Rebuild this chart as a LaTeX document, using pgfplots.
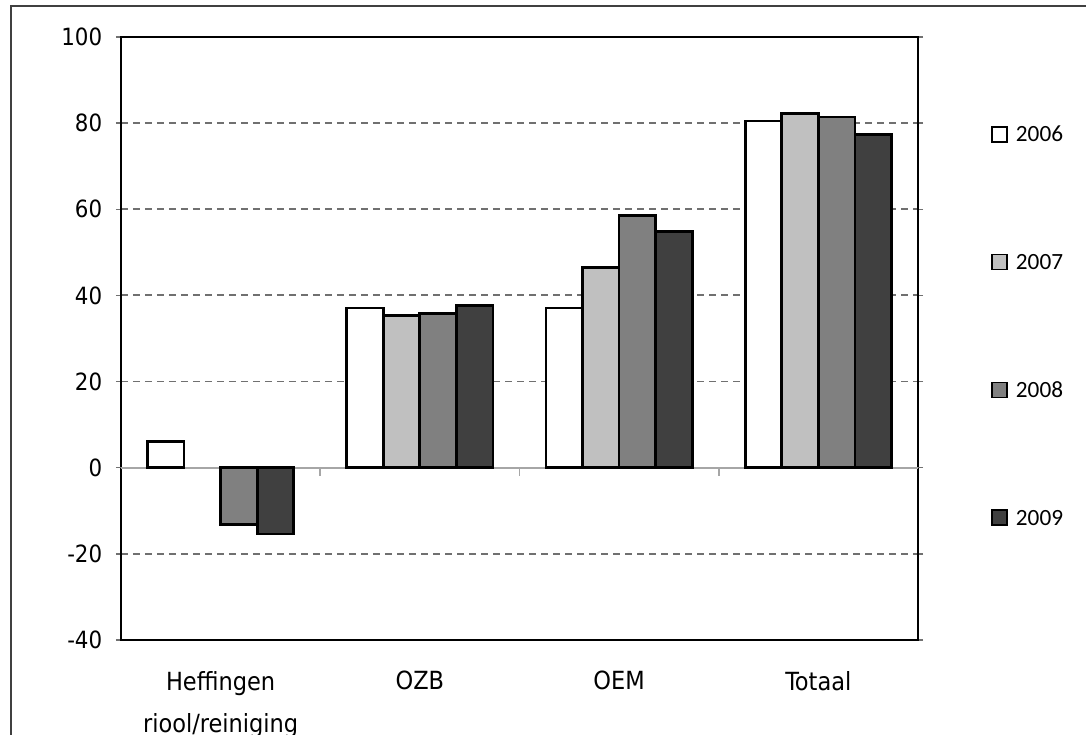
\documentclass[border=0pt]{standalone}
\usepackage{pgfplots}
\pgfplotsset{compat=1.18}
\usepackage{fontspec}
\setmainfont{DejaVu Sans Condensed}
\newfontfamily\legfont{Carlito}
\definecolor{c06}{HTML}{FFFFFF}
\definecolor{c07}{HTML}{C0C0C0}
\definecolor{c08}{HTML}{808080}
\definecolor{c09}{HTML}{404040}
\definecolor{framegray}{HTML}{404040}
\definecolor{gridgray}{HTML}{707070}
\begin{document}
\begin{tikzpicture}
\useasboundingbox (0pt,0pt) rectangle (434.4pt,294pt);
\clip (0pt,0pt) rectangle (434.4pt,294pt);
\draw[framegray, line width=0.8pt] (4.4pt,-10pt) -- (4.4pt,291.6pt) -- (450pt,291.6pt);
\begin{axis}[
  at={(48.4pt,38pt)}, anchor=south west,
  width=318.8pt, height=241.2pt, scale only axis,
  xmin=-0.5, xmax=3.5, ymin=-40, ymax=100,
  ybar=0pt, bar width=14.64pt,
  axis line style={black, line width=0.8pt},
  xtick={0,1,2,3},
  xticklabels={{Heffingen\\riool/reiniging},OZB,OEM,Totaal},
  xticklabel style={align=center, font=\fontsize{10}{16.8}\selectfont, yshift=-7pt},
  x tick style={draw=none},
  ytick={-40,-20,20,40,60,80,100},
  yticklabels={-40,-20,20,40,60,80,100},
  extra y ticks={0}, extra y tick labels={0},
  extra y tick style={grid style={solid, color=gray!70, line width=0.7pt, dash pattern=}},
  yticklabel style={font=\fontsize{9.5}{11}\selectfont, xshift=-2pt},
  y tick style={gridgray, line width=0.6pt},
  tick align=outside, major tick length=2pt,
  ymajorgrids,
  grid style={gridgray, line width=0.75pt, dash pattern=on 2.8pt off 2pt},
  legend entries={2006,2007,2008,2009},
  legend image code/.code={\draw[#1, line width=0.6pt] (0pt,-3pt) rectangle (6pt,3pt);},
  legend style={at={(1.0915,0.853)}, anchor=north west, draw=none, fill=none,
    inner sep=0pt, row sep=44.5pt, column sep=3.2pt,
    font=\legfont\fontsize{9.3}{10}\selectfont,
    nodes={inner sep=0pt, text height=6pt, text depth=0pt}},
  legend cell align=left,
]
\draw[gray!70, line width=0.6pt] (axis cs:0.5,0) -- ++(0pt,-3.2pt);
\draw[gray!70, line width=0.6pt] (axis cs:1.5,0) -- ++(0pt,-3.2pt);
\draw[gray!70, line width=0.6pt] (axis cs:2.5,0) -- ++(0pt,-3.2pt);
\addplot[fill=c06, draw=black, line width=1.1pt] coordinates {(0,6.0) (1,37.1) (2,37.1) (3,80.5)};
\addplot[fill=c07, draw=black, line width=1.1pt] coordinates {(1,35.3) (2,46.4) (3,82.3)};
\addplot[fill=c08, draw=black, line width=1.1pt] coordinates {(0,-13.1) (1,35.8) (2,58.5) (3,81.4)};
\addplot[fill=c09, draw=black, line width=1.1pt] coordinates {(0,-15.4) (1,37.6) (2,54.8) (3,77.3)};
\end{axis}
\end{tikzpicture}
\end{document}
